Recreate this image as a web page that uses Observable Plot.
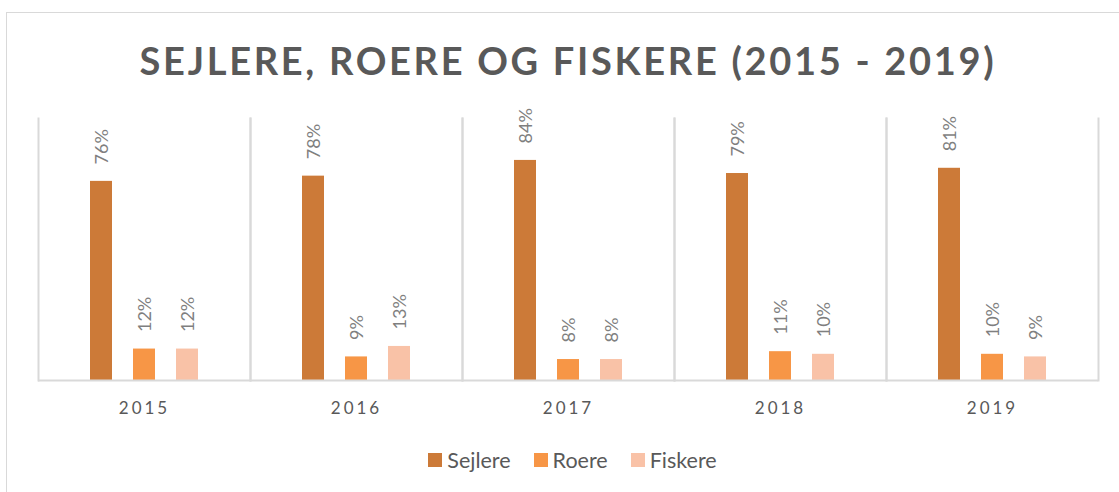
<!DOCTYPE html>
<html>
<head>
<meta charset="utf-8">
<script src="https://cdn.jsdelivr.net/npm/d3@7"></script>
<script src="https://cdn.jsdelivr.net/npm/@observablehq/plot@0.6"></script>
<style>
  html, body { margin: 0; padding: 0; background: #fff; }
  #wrap { position: relative; width: 1119px; height: 492px; overflow: hidden; font-family: Lato, "Open Sans", sans-serif; }
  #border { position: absolute; left: 6px; top: 12px; width: 1200px; height: 600px; border-left: 1px solid #d9d9d9; border-top: 1px solid #d9d9d9; }
  #title { position: absolute; left: 36px; width: 1064px; top: 38px; text-align: center; font-weight: 700; font-size: 38px; letter-spacing: 2.7px; color: #595959; line-height: 1.2; white-space: nowrap; }
  #chart { position: absolute; left: 0; top: 100px; }
  #legend { position: absolute; top: 447px; left: 0; width: 1145px; display: flex; justify-content: center; gap: 23px; font-size: 21.5px; color: #595959; }
  #legend span.item { display: inline-flex; align-items: center; gap: 5px; }
  #legend span.sw { display: inline-block; width: 14px; height: 14px; }
  [aria-label^="fx-axis"] text { letter-spacing: 3px; }
</style>
</head>
<body>
<div id="wrap">
  <div id="border"></div>
  <div id="title">SEJLERE, ROERE OG FISKERE (2015 - 2019)</div>
  <div id="chart"></div>
  <div id="legend"></div>
</div>
<script>
const years = ["2015", "2016", "2017", "2018", "2019"];
const series = ["Sejlere", "Roere", "Fiskere"];
const colors = ["#cc7a38", "#f79646", "#f9c2a7"];
const sejlere = [76, 78, 84, 79, 81];
const roere = [12, 9, 8, 11, 10];
const fiskere = [12, 13, 8, 10, 9];

const seriesValues = [sejlere, roere, fiskere];
const rows = [];
years.forEach((y, i) => series.forEach((s, j) => rows.push({year: y, series: s, value: seriesValues[j][i]})));

const plot = Plot.plot({
  width: 1119,
  height: 330,
  marginTop: 18,
  marginBottom: 50,
  marginLeft: 36,
  marginRight: 19,
  style: {fontFamily: "Lato, 'Open Sans', sans-serif", fontSize: "17px", color: "#595959", background: "transparent"},
  facet: {data: rows, x: "year"},
  fx: {domain: years, padding: 0, axis: "bottom", tickSize: 0, tickPadding: 21, label: null},
  x: {domain: series, paddingInner: 0.477, paddingOuter: 1.157, axis: null},
  y: {domain: [0, 100], axis: null},
  color: {domain: series, range: colors},
  marks: [
    Plot.frame({anchor: "left", stroke: "#d9d9d9", strokeWidth: 2}),
    Plot.frame({anchor: "right", stroke: "#d9d9d9", strokeWidth: 2}),
    Plot.barY(rows, {x: "series", y: "value", fill: "series"}),
    Plot.ruleY([0], {stroke: "#d9d9d9", strokeWidth: 2}),
    Plot.text(rows, {x: "series", y: "value", text: d => d.value + "%", rotate: -90, textAnchor: "start", dy: -17, dx: 1, fill: "#7f7f7f", fontSize: 18})
  ]
});
document.getElementById("chart").appendChild(plot);

const legend = document.getElementById("legend");
series.forEach((s, i) => {
  const item = document.createElement("span");
  item.className = "item";
  const sw = document.createElement("span");
  sw.className = "sw";
  sw.style.background = colors[i];
  item.appendChild(sw);
  item.appendChild(document.createTextNode(s));
  legend.appendChild(item);
});
</script>
</body>
</html>
